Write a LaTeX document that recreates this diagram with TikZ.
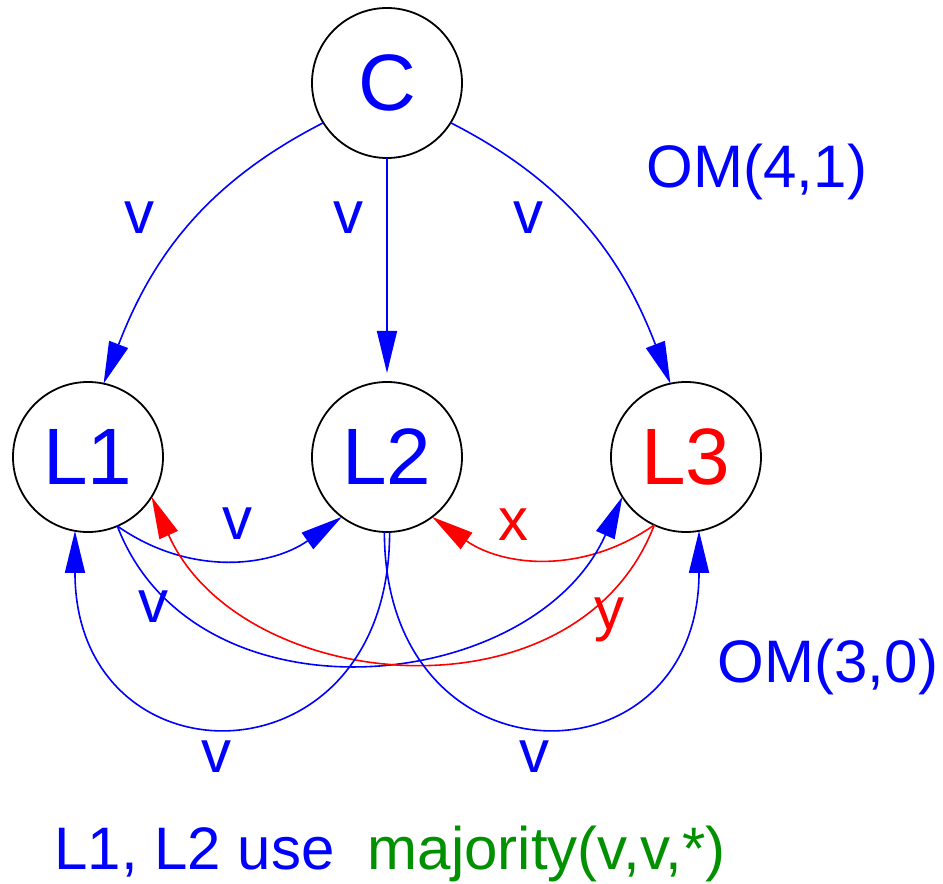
\documentclass[tikz,border=0pt]{standalone}
\usepackage{fontspec}
\setmainfont{Liberation Sans}
\usetikzlibrary{arrows.meta, positioning}
\definecolor{msgblue}{HTML}{0000FF}
\definecolor{liered}{HTML}{FF0000}
\definecolor{votegreen}{HTML}{009000}
\tikzset{
    general/.style={circle, draw=black, line width=0.9pt, minimum size=75pt, inner sep=0pt, outer sep=0pt, font=\fontsize{40}{48}\selectfont, text=msgblue},
    traitor/.style={general, text=liered},
    lbl/.style={inner sep=0pt, font=\fontsize{30}{36}\selectfont, text=msgblue},
    redlbl/.style={lbl, text=liered},
    arrow/.style={-{Triangle[length=21pt, width=10pt]}, line width=0.8pt, draw=msgblue},
    redarrow/.style={arrow, draw=liered}
}
\begin{document}
\begin{tikzpicture}[x=0.5pt, y=0.5pt]
    \useasboundingbox (0,0) rectangle (943,884);
    % commander and lieutenants
    \node[general] (C) at (387,801) {C};
    \node[general, below=112pt of C] (L2) {L2};
    \node[general, left=74.5pt of L2] (L1) {L1};
    \node[traitor, right=74.5pt of L2] (L3) {L3};
    % round 1: commander sends v
    \draw[arrow] (C.212) to[out=207, in=69] (L1.78);
    \draw[arrow, shorten >=4.5pt] (C) -- (L2);
    \draw[arrow] (C.328) to[out=333, in=111] (L3.102);
    \node[lbl] (v1) at (139,666) {v};
    \node[lbl] (v2) at (348,666) {v};
    \node[lbl] (v3) at (528,666) {v};
    \node[lbl] (om41) at (757,712) {OM(4,1)};
    % round 2: lieutenants relay
    \draw[arrow] (L1.-67) to[out=-35, in=215] (L2.233);
    \draw[redarrow] (L3.245) to[out=215, in=-35] (L2.-53);
    \draw[arrow] (L1.-67) to[out=-69, in=246, looseness=1.1] (L3.212);
    \draw[redarrow] (L3.245) to[out=249, in=-66, looseness=1.1] (L1.-32);
    \draw[arrow] (L2.-88) to[out=-90, in=-90, looseness=2.1] (L1.-100);
    \draw[arrow] (L2.-92) to[out=-90, in=-90, looseness=2.1] (L3.-80);
    \node[lbl] (v12) at (237,360) {v};
    \node[redlbl] (x32) at (513,359) {x};
    \node[lbl] (v13) at (153,277) {v};
    \node[redlbl] (y31) at (609,264) {y};
    \node[lbl] (v21) at (216,127) {v};
    \node[lbl] (v23) at (534,127) {v};
    \node[lbl] (om30) at (828,217) {OM(3,0)};
    \node[lbl, anchor=base west] (note) at (54,14) {L1, L2 use \ \textcolor{votegreen}{majority(v,v,*)}};
\end{tikzpicture}
\end{document}
